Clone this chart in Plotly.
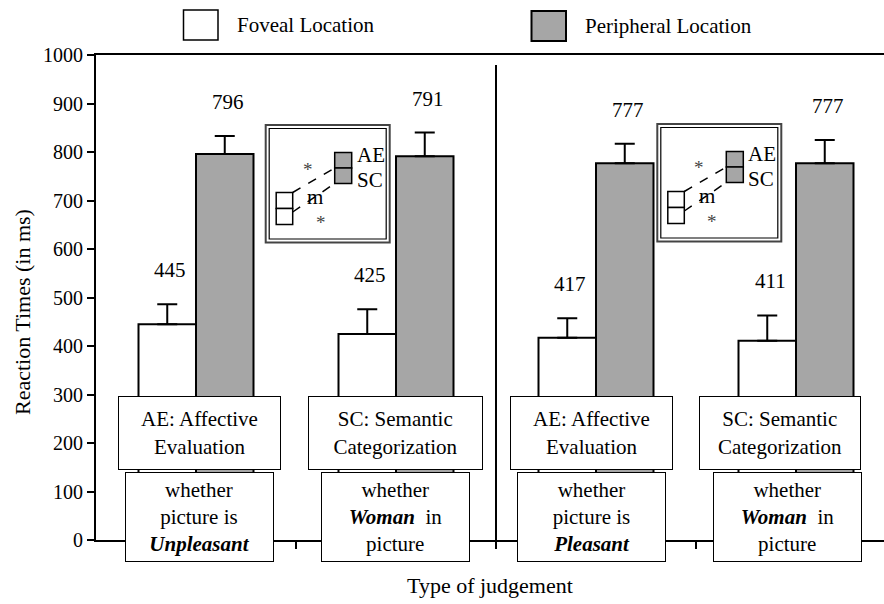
import plotly.graph_objects as go

# --- data -------------------------------------------------------------
categories = [0, 1, 2, 3]
foveal_rt = [445, 425, 417, 411]
peripheral_rt = [796, 791, 777, 777]
foveal_err = [41, 51, 40, 52]
peripheral_err = [37, 49, 40, 48]

task_labels = [
    "AE: Affective<br>Evaluation",
    "SC: Semantic<br>Categorization",
    "AE: Affective<br>Evaluation",
    "SC: Semantic<br>Categorization",
]
question_labels = [
    "whether<br>picture is<br><b><i>Unpleasant</i></b>",
    "whether<br><b><i>Woman</i></b>&nbsp; in<br>picture",
    "whether<br>picture is<br><b><i>Pleasant</i></b>",
    "whether<br><b><i>Woman</i></b>&nbsp; in<br>picture",
]
series_names = ["Foveal Location", "Peripheral Location"]
y_ticks = list(range(0, 1001, 100))

FONT = "Liberation Serif"
GREY = "#a6a6a6"

# plot area in pixels
PL, PR, PT, PB = 96, 884, 55, 540


def xpap(p):
    return (p - PL) / (PR - PL)


def ypap(p):
    return (PB - p) / (PB - PT)


fig = go.Figure()

fig.add_trace(go.Bar(
    x=categories, y=foveal_rt, name=series_names[0],
    marker=dict(color="white", line=dict(color="black", width=2)),
    error_y=dict(type="data", array=foveal_err, arrayminus=[0] * 4,
                 symmetric=False, color="black", thickness=2, width=10),
))
fig.add_trace(go.Bar(
    x=categories, y=peripheral_rt, name=series_names[1],
    marker=dict(color=GREY, line=dict(color="black", width=2)),
    error_y=dict(type="data", array=peripheral_err, arrayminus=[0] * 4,
                 symmetric=False, color="black", thickness=2, width=10),
))

shapes = []
annotations = []

# value labels above the error bars
half = 0.2875 / 2
for i in categories:
    annotations.append(dict(
        x=i - half, y=foveal_rt[i] + foveal_err[i], xref="x", yref="y",
        text=str(foveal_rt[i]), showarrow=False, yshift=34, xshift=3,
        yanchor="middle", font=dict(family=FONT, size=21, color="black")))
    annotations.append(dict(
        x=i + half, y=peripheral_rt[i] + peripheral_err[i], xref="x", yref="y",
        text=str(peripheral_rt[i]), showarrow=False, yshift=34, xshift=3,
        yanchor="middle", font=dict(family=FONT, size=21, color="black")))

# separator between the two picture conditions
shapes.append(dict(type="line", xref="x", yref="paper", x0=1.5, x1=1.5,
                   y0=0, y1=ypap(65), line=dict(color="black", width=2)))

# task boxes and question boxes under the bars
task_shift = [3, -1, -5, -16]
task_width = [161, 173, 161, 160]
question_shift = [3, -1, -5, -9]
for i in categories:
    annotations.append(dict(
        x=i, y=ypap(433), xref="x", yref="paper", text=task_labels[i],
        showarrow=False, xshift=task_shift[i], width=task_width[i], height=72,
        xanchor="center", yanchor="middle",
        bgcolor="white", bordercolor="black", borderwidth=1, borderpad=0,
        font=dict(family=FONT, size=21, color="black")))
    annotations.append(dict(
        x=i, y=ypap(517), xref="x", yref="paper", text=question_labels[i],
        showarrow=False, xshift=question_shift[i], width=147, height=88,
        xanchor="center", yanchor="middle",
        bgcolor="white", bordercolor="black", borderwidth=1, borderpad=0,
        font=dict(family=FONT, size=21, color="black")))


# small inset diagrams
def add_inset(ox, oy):
    def X(d):
        return xpap(ox + d)

    def Y(d):
        return ypap(oy + d)

    def rect(x0, y0, x1, y1, fill, lc="black", lw=1.5):
        shapes.append(dict(type="rect", xref="paper", yref="paper",
                           x0=X(x0), x1=X(x1), y0=Y(y0), y1=Y(y1),
                           fillcolor=fill, line=dict(color=lc, width=lw)))

    rect(0, 0, 124, 117.5, "white", "#444", 2)
    rect(3.5, 3.5, 120.5, 114, "white", "black", 1.2)
    rect(10.5, 67.5, 27, 83.5, "white")
    rect(10.5, 83.5, 27, 99.5, "white")
    rect(69, 27.5, 86, 43, GREY)
    rect(69, 43, 86, 58.5, GREY)
    for (a, b, c, d) in [(27, 67.5, 69, 43), (27, 87, 69, 58.5)]:
        shapes.append(dict(type="line", xref="paper", yref="paper",
                           x0=X(a), y0=Y(b), x1=X(c), y1=Y(d),
                           line=dict(color="black", width=1.5, dash="dash")))
    for (a, b, t, size, col, anchor) in [
        (42, 44, "*", 19, "#444", "center"),
        (55, 97, "*", 19, "#444", "center"),
        (49.5, 72.5, "m", 21, "black", "center"),
        (89, 30, "AE", 21, "black", "left"),
        (89, 55, "SC", 21, "black", "left"),
    ]:
        annotations.append(dict(
            x=X(a), y=Y(b), xref="paper", yref="paper", text=t,
            showarrow=False, xanchor=anchor, yanchor="middle",
            font=dict(family=FONT, size=size, color=col)))


add_inset(265.7, 125)
add_inset(657.3, 124)

# legend drawn by hand (large swatches)
shapes.append(dict(type="rect", xref="paper", yref="paper",
                   x0=xpap(183.5), x1=xpap(218), y0=ypap(10), y1=ypap(40),
                   fillcolor="white", line=dict(color="black", width=1.5)))
shapes.append(dict(type="rect", xref="paper", yref="paper",
                   x0=xpap(531.5), x1=xpap(566), y0=ypap(11), y1=ypap(41),
                   fillcolor=GREY, line=dict(color="black", width=2)))
annotations.append(dict(x=xpap(235), y=ypap(25), xref="paper", yref="paper",
                        text=series_names[0], showarrow=False,
                        xanchor="left", yanchor="middle",
                        font=dict(family=FONT, size=21, color="black")))
annotations.append(dict(x=xpap(583), y=ypap(26), xref="paper", yref="paper",
                        text=series_names[1], showarrow=False,
                        xanchor="left", yanchor="middle",
                        font=dict(family=FONT, size=21, color="black")))

# axis titles
annotations.append(dict(x=0.5, y=0, xref="paper", yref="paper",
                        text="Type of judgement", showarrow=False,
                        xanchor="center", yanchor="middle", yshift=-45,
                        font=dict(family=FONT, size=22, color="black")))
annotations.append(dict(x=0, y=ypap(312), xref="paper", yref="paper",
                        text="Reaction Times (in ms)", showarrow=False,
                        textangle=-90, xanchor="center", yanchor="middle",
                        xshift=-74,
                        font=dict(family=FONT, size=22, color="black")))

fig.update_layout(
    width=884, height=604,
    margin=dict(l=PL, r=884 - PR, t=PT, b=604 - PB),
    paper_bgcolor="white", plot_bgcolor="white",
    barmode="group", bargap=0.425, bargroupgap=0,
    showlegend=False,
    shapes=shapes, annotations=annotations,
    font=dict(family=FONT, size=20, color="black"),
)
fig.update_xaxes(
    range=[-0.5, 3.5 - 12 / 200], showgrid=False, zeroline=False,
    showline=True, linecolor="black", linewidth=2, mirror=True,
    tickvals=[0.5, 1.5, 2.5], ticktext=["", "", ""], ticks="outside",
    ticklen=7, tickwidth=2, tickcolor="black",
)
fig.update_yaxes(
    range=[0, 1000], tickvals=y_ticks, showgrid=False, zeroline=False,
    showline=True, linecolor="black", linewidth=2,
    ticks="outside", ticklen=7, tickwidth=2, tickcolor="black",
    tickfont=dict(family=FONT, size=20, color="black"),
)

fig.write_html("out.html", config={"displayModeBar": False},
               post_script="document.body.style.margin='0';")
